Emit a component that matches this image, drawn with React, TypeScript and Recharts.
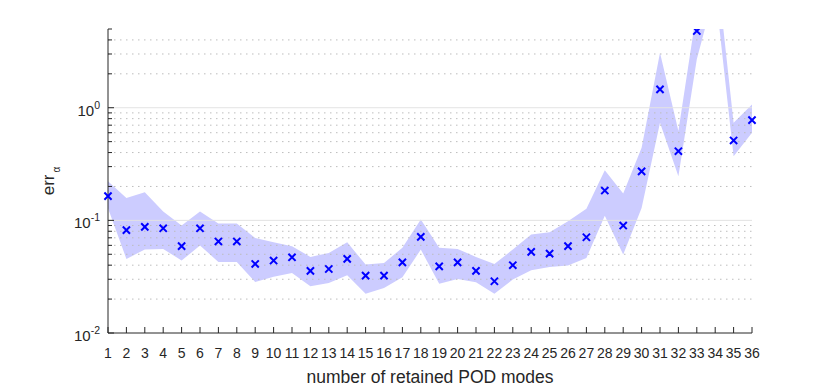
import React from 'react';
import {
  ComposedChart,
  Area,
  Scatter,
  XAxis,
  YAxis,
  ReferenceLine,
} from 'recharts';

// number of retained POD modes
const modes = [1, 2, 3, 4, 5, 6, 7, 8, 9, 10, 11, 12, 13, 14, 15, 16, 17, 18, 19, 20, 21, 22, 23, 24, 25, 26, 27, 28, 29, 30, 31, 32, 33, 34, 35, 36];

// err_alpha (mean) - mode 34 is off the top of the plot
const errMean = [0.164, 0.082, 0.0875, 0.085, 0.059, 0.085, 0.065, 0.065, 0.041, 0.044, 0.047, 0.0356, 0.037, 0.0455, 0.0323, 0.0323, 0.0424, 0.0713, 0.039, 0.0424, 0.0356, 0.0288, 0.04, 0.0525, 0.0507, 0.059, 0.0708, 0.184, 0.09, 0.272, 1.455, 0.411, 4.8, 15, 0.512, 0.776];

// spread band
const errLow = [0.128, 0.0455, 0.055, 0.0558, 0.044, 0.0597, 0.0428, 0.0428, 0.0284, 0.0315, 0.0341, 0.026, 0.0278, 0.0325, 0.0223, 0.0251, 0.0312, 0.055, 0.0274, 0.0302, 0.0282, 0.0223, 0.0298, 0.036, 0.0386, 0.0397, 0.0464, 0.11, 0.0497, 0.129, 0.736, 0.246, 2.7, 11, 0.371, 0.6];
const errHigh = [0.223, 0.158, 0.178, 0.12, 0.09, 0.12, 0.0937, 0.0937, 0.0699, 0.0638, 0.0589, 0.0474, 0.0514, 0.0638, 0.0405, 0.0419, 0.057, 0.1016, 0.057, 0.0558, 0.0474, 0.041, 0.055, 0.0748, 0.0784, 0.0982, 0.1265, 0.279, 0.173, 0.441, 3.08, 0.62, 7.4, 23, 0.736, 1.07];

// y ticks (log axis, major + minor)
const yTicks = [0.01, 0.02, 0.03, 0.04, 0.05, 0.06, 0.07, 0.08, 0.09, 0.1, 0.2, 0.3, 0.4, 0.5, 0.6, 0.7, 0.8, 0.9, 1, 2, 3, 4, 5];
const majorGrid = [0.1, 1];
const minorGrid = [0.02, 0.03, 0.04, 0.05, 0.06, 0.07, 0.08, 0.09, 0.2, 0.3, 0.4, 0.5, 0.6, 0.7, 0.8, 0.9, 2, 3, 4];

const data = modes.map((m, i) => ({
  mode: m,
  mean: errMean[i],
  band: [errLow[i], errHigh[i]],
}));

const FONT = '"Liberation Sans", Arial, Helvetica, sans-serif';
const AXIS = '#262626';

const isMajor = (v: number) => Math.abs(Math.log10(v) - Math.round(Math.log10(v))) < 1e-6;

const YTick = ({ x, y, payload }: any) => {
  const v = payload.value;
  const major = isMajor(v);
  return (
    <g>
      <line x1={x} x2={x + (major ? 6 : 4)} y1={y} y2={y} stroke={AXIS} strokeWidth={1} />
      {major && (
        <text x={x - 8} y={y + 8} textAnchor="end" fontFamily={FONT} fontSize={15} fill={AXIS}>
          10
          <tspan fontSize={10.5} dy={-7}>{Math.round(Math.log10(v))}</tspan>
        </text>
      )}
    </g>
  );
};

const XTick = ({ x, y, payload }: any) => (
  <g>
    <line x1={x} x2={x} y1={y} y2={y - 6} stroke={AXIS} strokeWidth={1} />
    <text x={x} y={y + 25} textAnchor="middle" fontFamily={FONT} fontSize={14} fill={AXIS}>
      {payload.value}
    </text>
  </g>
);

const XMark = ({ cx, cy }: any) => {
  if (cx == null || cy == null) return null;
  const s = 3.6;
  return (
    <path
      d={`M${cx - s},${cy - s}L${cx + s},${cy + s}M${cx - s},${cy + s}L${cx + s},${cy - s}`}
      stroke="#0000ff"
      strokeWidth={2}
      fill="none"
    />
  );
};

const YLabel = ({ viewBox }: any) => {
  const cx = viewBox.x + 6;
  const cy = viewBox.y + viewBox.height / 2;
  return (
    <text
      x={cx}
      y={cy}
      transform={`rotate(-90 ${cx} ${cy})`}
      textAnchor="middle"
      fontFamily={FONT}
      fontSize={17}
      fill={AXIS}
    >
      err
      <tspan fontSize={10} dx={2} dy={6}>α</tspan>
    </text>
  );
};

const XLabel = ({ viewBox }: any) => (
  <text
    x={viewBox.x + viewBox.width / 2}
    y={viewBox.y + 50}
    textAnchor="middle"
    fontFamily={FONT}
    fontSize={17.5}
    fill={AXIS}
  >
    number of retained POD modes
  </text>
);

export default function App() {
  return (
    <div style={{ position: 'absolute', left: 0, top: 0, width: 830, height: 387, background: '#fff' }}>
      <ComposedChart
        width={830}
        height={387}
        data={data}
        margin={{ top: 29, right: 78, bottom: 0, left: 48 }}
      >
        {minorGrid.map((v) => (
          <ReferenceLine key={`mi-${v}`} y={v} stroke="#bdbdbd" strokeDasharray="1.5 4.5" />
        ))}
        {majorGrid.map((v) => (
          <ReferenceLine key={`ma-${v}`} y={v} stroke="#e3e3e3" />
        ))}
        <XAxis
          dataKey="mode"
          type="number"
          domain={[1, 36]}
          ticks={modes}
          interval={0}
          height={54}
          tickSize={0}
          tickMargin={0}
          tickLine={false}
          axisLine={{ stroke: AXIS }}
          tick={<XTick />}
          label={<XLabel />}
        />
        <YAxis
          type="number"
          scale="log"
          domain={[0.01, 5]}
          allowDataOverflow
          ticks={yTicks}
          interval={0}
          width={60}
          tickSize={0}
          tickMargin={0}
          tickLine={false}
          axisLine={{ stroke: AXIS }}
          tick={<YTick />}
          label={<YLabel />}
        />
        <Area
          dataKey="band"
          type="linear"
          stroke="none"
          fill="#ccccff"
          fillOpacity={1}
          isAnimationActive={false}
          dot={false}
          activeDot={false}
        />
        <Scatter dataKey="mean" shape={<XMark />} isAnimationActive={false} />
      </ComposedChart>
    </div>
  );
}
